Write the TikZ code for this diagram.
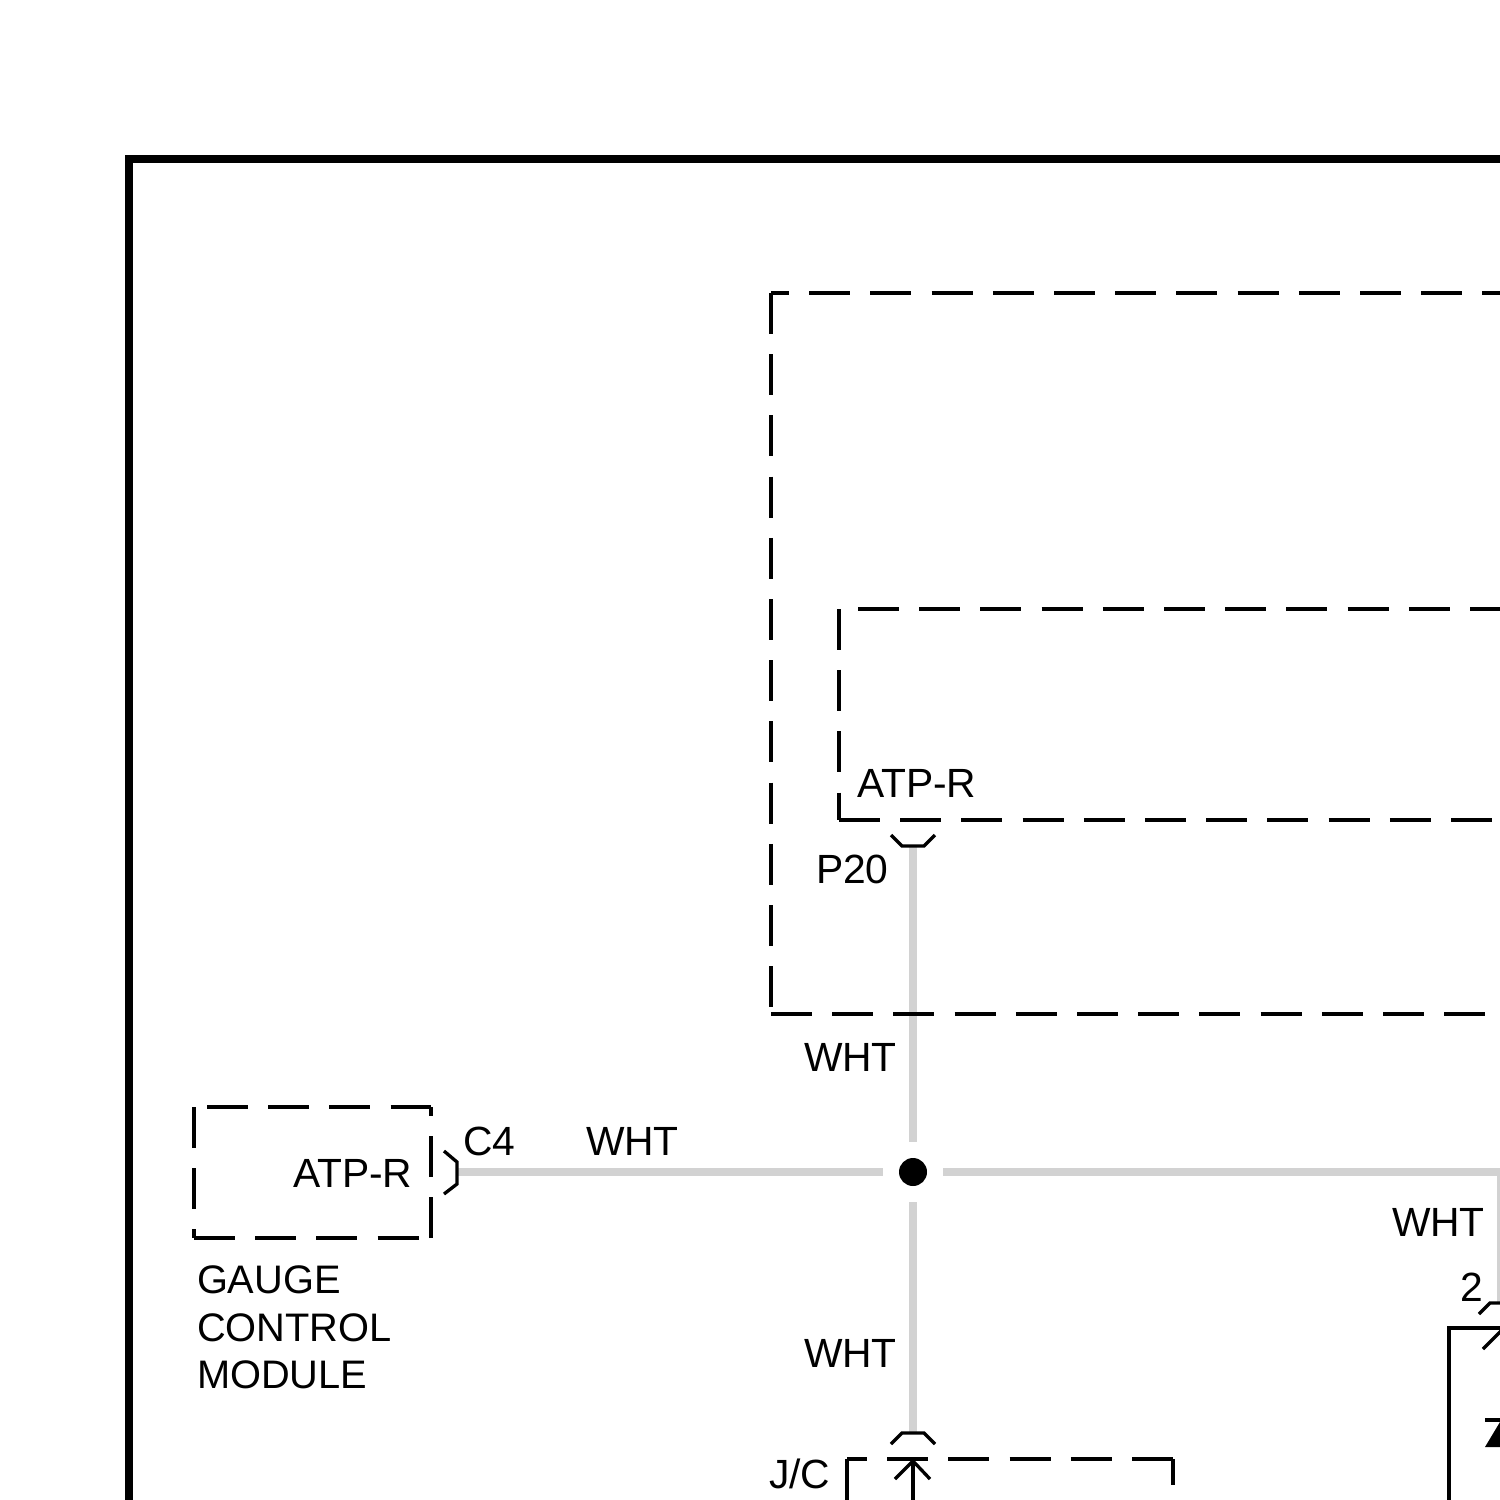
\documentclass[tikz,border=0pt]{standalone}
\usepackage{fontspec}
\setmainfont{Liberation Sans}
\definecolor{wirecol}{HTML}{D2D2D2}
\tikzset{
  wire/.style={draw=wirecol,line width=7.5pt,line cap=butt,line join=miter},
  ink/.style={draw=black,line width=3.3pt,line cap=butt,line join=miter},
  dashline/.style={ink,dash pattern=on 41pt off 20.2pt},
  frameline/.style={draw=black,line width=8pt,line join=miter},
  lbl/.style={inner sep=0pt,outer sep=0pt,anchor=base west,text=black,font=\fontsize{40.8}{47.5}\selectfont},
  blocklbl/.style={lbl,font=\fontsize{39.8}{47.5}\selectfont},
  junction/.style={circle,fill=black,inner sep=0pt,minimum size=28pt}
}
\begin{document}
\begin{tikzpicture}[x=1pt,y=-1pt]
\useasboundingbox (0,0) rectangle (1500,1500);
\clip (0,0) rectangle (1500,1500);
\fill[white] (0,0) rectangle (1500,1500);
% outer frame
\draw[frameline] (1510,159) -- (129,159) -- (129,1510);
% anchor points
\node[junction] (dot) at (913,1172) {};
\coordinate (p20) at (913,846);
\coordinate (c4) at (457,1172);
\coordinate (jc) at (913,1433);
\coordinate (rt) at (1501,1172);
\coordinate (pin2) at (1501,1303);
% wires
\draw[wire,shorten >=30pt] (p20) -- (dot.center);
\draw[wire,shorten >=30pt] (c4) -- (dot.center);
\draw[wire,shorten >=30pt] (jc) -- (dot.center);
\draw[wire,shorten <=30pt] (dot.center) -- (rt) -- (pin2);
% big dashed box
\draw[dashline,dash phase=23pt] (771,293) -- (1510,293);
\draw[dashline] (771,293) -- (771,1014);
\draw[dashline] (771,1014) -- (1510,1014);
% inner dashed box
\draw[dashline] (858,609) -- (1510,609);
\draw[dashline] (839,609) -- (839,820);
\draw[dashline] (839,820) -- (1510,820);
% gauge module box
\draw[dashline] (207,1107) -- (431,1107);
\draw[dashline] (431,1238) -- (431,1107);
\draw[dashline] (194,1238) -- (431,1238);
\draw[dashline] (194,1107) -- (194,1238);
% J/C box
\draw[dashline,dash phase=21pt] (847,1459) -- (1173,1459);
\draw[ink] (1173,1459) -- (1173,1485);
\draw[dashline] (847,1459) -- (847,1510);
% connector marks
\draw[ink] (891,835) -- (902,846) -- (924,846) -- (935,835);
\draw[ink] (444,1151) -- (457,1162) -- (457,1184) -- (444,1194);
\draw[ink] (891,1444) -- (902,1433) -- (924,1433) -- (935,1444);
\draw[ink] (1479,1314) -- (1490,1303) -- (1510,1303);
% J/C arrow
\draw[ink] (913,1459) -- (913,1510);
\draw[ink] (895,1479) -- (913,1461) -- (930,1479);
% right component
\draw[ink,line width=4pt] (1510,1328) -- (1449,1328) -- (1449,1510);
\draw[ink] (1483,1349) -- (1503,1329);
\draw[ink] (1485,1420) -- (1510,1420);
\fill[black] (1485,1447) -- (1500,1422) -- (1510,1422) -- (1510,1447) -- cycle;
% labels
\node[lbl] (l1) at (857,797.5) {ATP-R};
\node[lbl] (l2) at (816,883) {P20};
\node[lbl] (l3) at (804,1071.5) {WHT};
\node[lbl] (l4) at (586,1155.5) {WHT};
\node[lbl] (l5) at (463,1155) {C4};
\node[lbl] (l6) at (293,1187) {ATP-R};
\node[blocklbl,align=left,anchor=north west] (l7) at (197,1266) {GAUGE\\CONTROL\\MODULE};
\node[lbl] (l8) at (804,1367.5) {WHT};
\node[lbl] (l9) at (769,1488) {J/C};
\node[lbl] (l10) at (1392,1236) {WHT};
\node[lbl] (l11) at (1460,1301) {2};
\end{tikzpicture}
\end{document}
